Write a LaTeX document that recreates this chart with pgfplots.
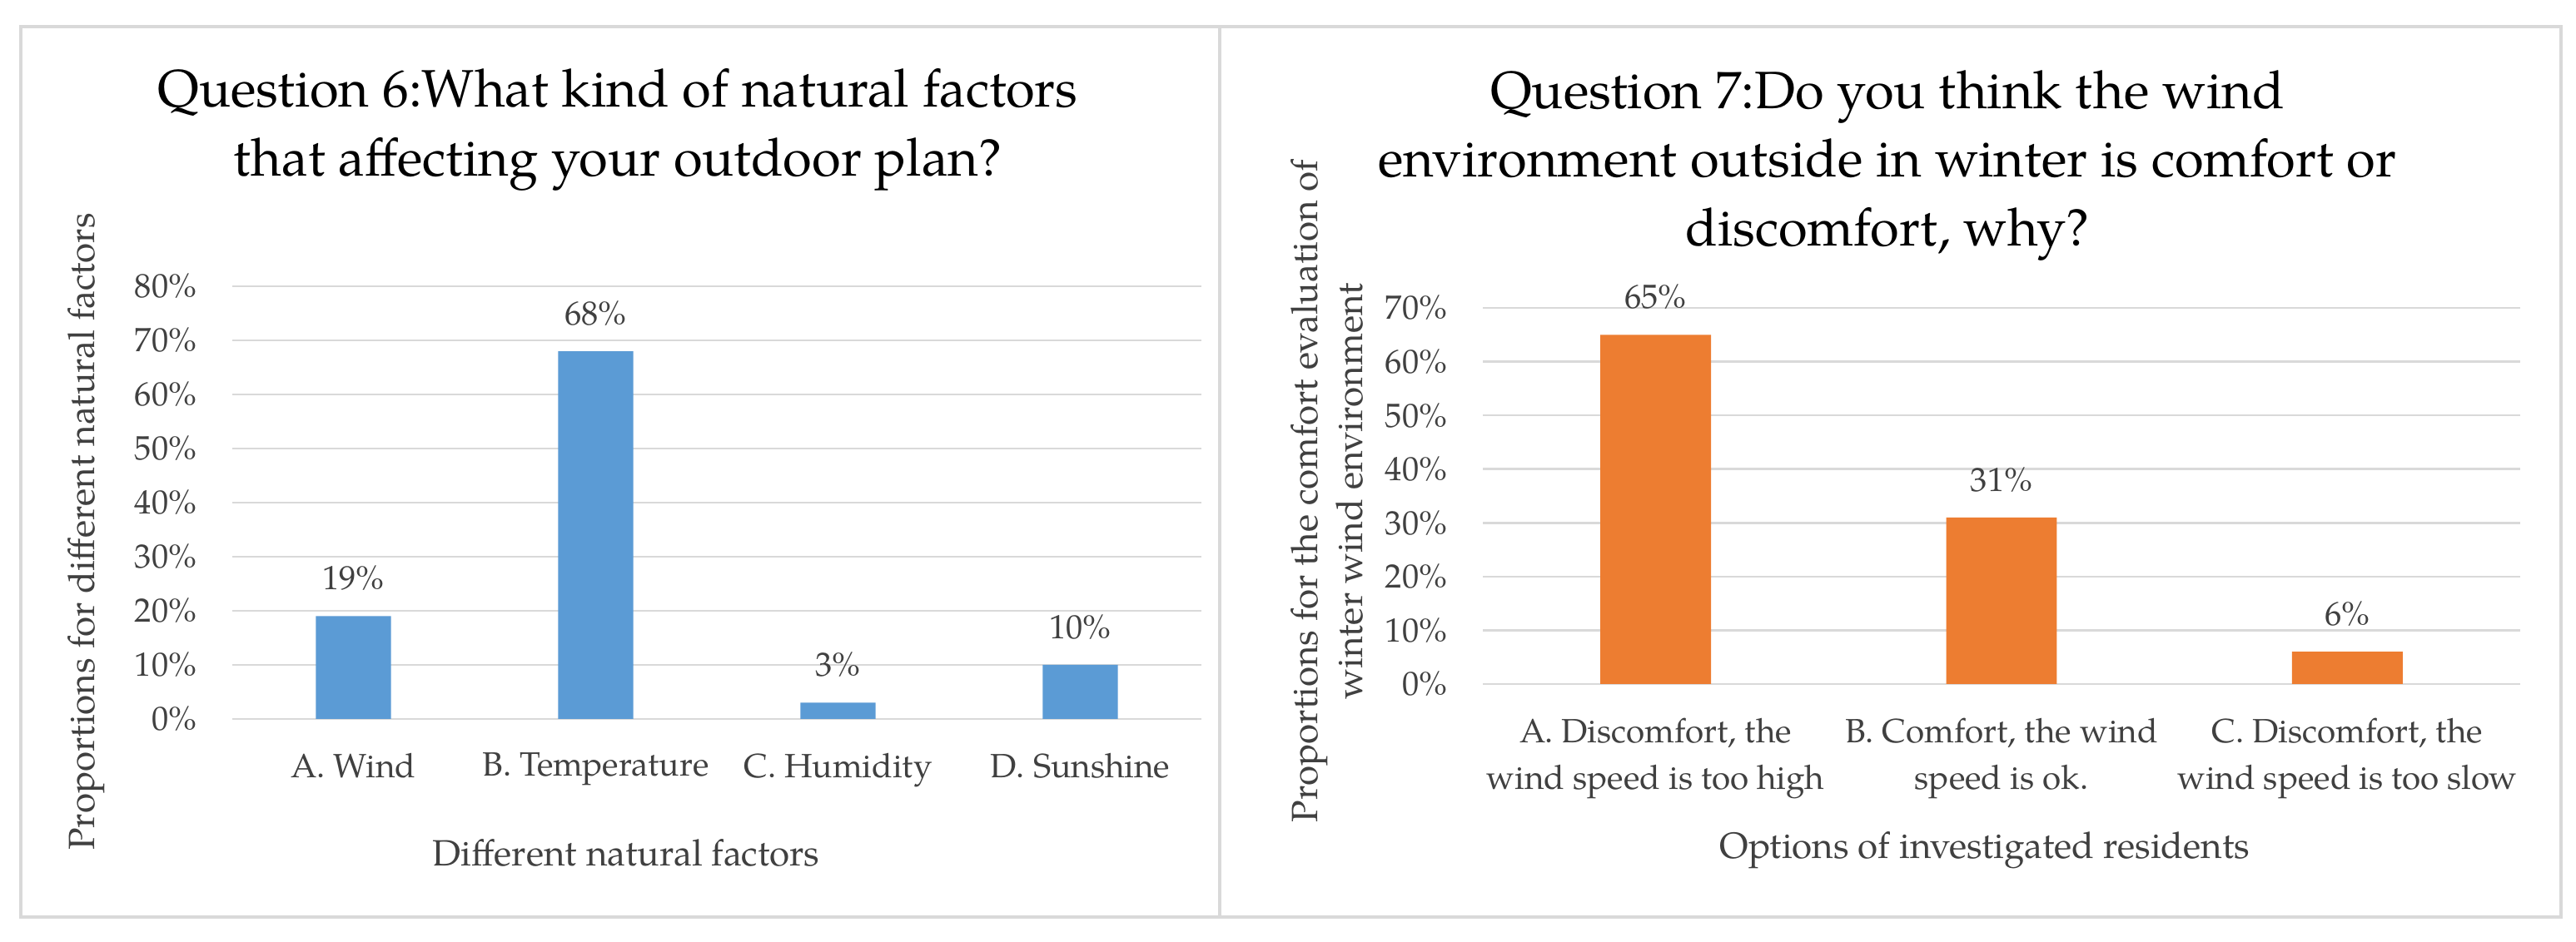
\documentclass[border=0pt]{standalone}
\usepackage{pgfplots}
\pgfplotsset{compat=1.18}
\usepackage{fontspec}
\setmainfont{TeX Gyre Pagella}

\definecolor{barblue}{HTML}{5B9BD5}
\definecolor{barorange}{HTML}{ED7D31}
\definecolor{gridgray}{HTML}{D9D9D9}
\definecolor{framegray}{HTML}{D9D9D9}
\definecolor{ticktext}{HTML}{404040}

\pgfplotsset{
  excelbar/.style={
    scale only axis,
    anchor=south west,
    ybar,
    ymin=0,
    axis line style={draw=none},
    major tick length=0pt,
    ymajorgrids,
    grid style={gridgray, line width=0.7pt},
    xtick=data,
    ytick distance=10,
    yticklabel style={anchor=east, inner sep=0pt, xshift=-0.42cm,
      font=\fontsize{11.5}{14}\selectfont, text=ticktext},
    xticklabel style={anchor=north, inner sep=0pt, yshift=-0.40cm, align=center,
      font=\fontsize{11.5}{16}\selectfont, text=ticktext},
    nodes near coords={\pgfmathprintnumber[assume math mode=true]{\pgfplotspointmeta}\%},
    every node near coord/.append style={font=\fontsize{11.5}{14}\selectfont,
      text=ticktext, inner sep=0pt, yshift=0.30cm},
  }
}

\begin{document}
\begin{tikzpicture}
  % canvas: 1 px of the reference = 0.01 cm
  \fill[white] (0,0) rectangle (30.94,11.32);
  \draw[framegray, line width=1.2pt] (0.25,0.30) rectangle (14.65,11.00);
  \draw[framegray, line width=1.2pt] (14.65,0.30) rectangle (30.76,11.00);

  % ---------- Question 6 ----------
  \begin{axis}[
    excelbar,
    at={(2.79cm,2.68cm)},
    width=11.64cm, height=5.20cm,
    xmin=-0.5, xmax=3.5,
    ymax=80,
    bar width=0.31,
    xticklabels={A. Wind, B. Temperature, C. Humidity, D. Sunshine},
    yticklabels={0\%,10\%,20\%,30\%,40\%,50\%,60\%,70\%,80\%},
    ytick={0,10,20,30,40,50,60,70,80},
  ]
    \addplot[fill=barblue, draw=none] coordinates {(0,19) (1,68) (2,3) (3,10)};
  \end{axis}
  \node[align=center, font=\fontsize{18}{23.4}\selectfont] at (7.42,9.76)
    {Question 6:What kind of natural factors\\that affecting your outdoor plan?};
  \node[font=\fontsize{12.5}{15}\selectfont, text=ticktext] at (7.52,1.07)
    {Different natural factors};
  \node[rotate=90, font=\fontsize{12.5}{15}\selectfont, text=ticktext] at (1.04,4.93)
    {Proportions for different natural factors};

  % ---------- Question 7 ----------
  \begin{axis}[
    excelbar,
    at={(17.81cm,3.10cm)},
    width=12.46cm, height=4.52cm,
    xmin=-0.5, xmax=2.5,
    ymax=70,
    bar width=0.32,
    xticklabels={{A. Discomfort, the\\wind speed is too high},
                 {B. Comfort, the wind\\speed is ok.},
                 {C. Discomfort, the\\wind speed is too slow}},
    ytick={0,10,20,30,40,50,60,70},
    yticklabels={0\%,10\%,20\%,30\%,40\%,50\%,60\%,70\%},
  ]
    \addplot[fill=barorange, draw=none] coordinates {(0,65) (1,31) (2,6)};
  \end{axis}
  \node[align=center, font=\fontsize{18}{23.4}\selectfont] at (22.67,9.33)
    {Question 7:Do you think the wind\\environment outside in winter is comfort or\\discomfort, why?};
  \node[font=\fontsize{12.5}{15}\selectfont, text=ticktext] at (23.84,1.10)
    {Options of investigated residents};
  \node[rotate=90, align=center, font=\fontsize{12.5}{15.4}\selectfont, text=ticktext] at (15.94,5.42)
    {Proportions for the comfort evaluation of\\winter wind environment};
\end{tikzpicture}
\end{document}
